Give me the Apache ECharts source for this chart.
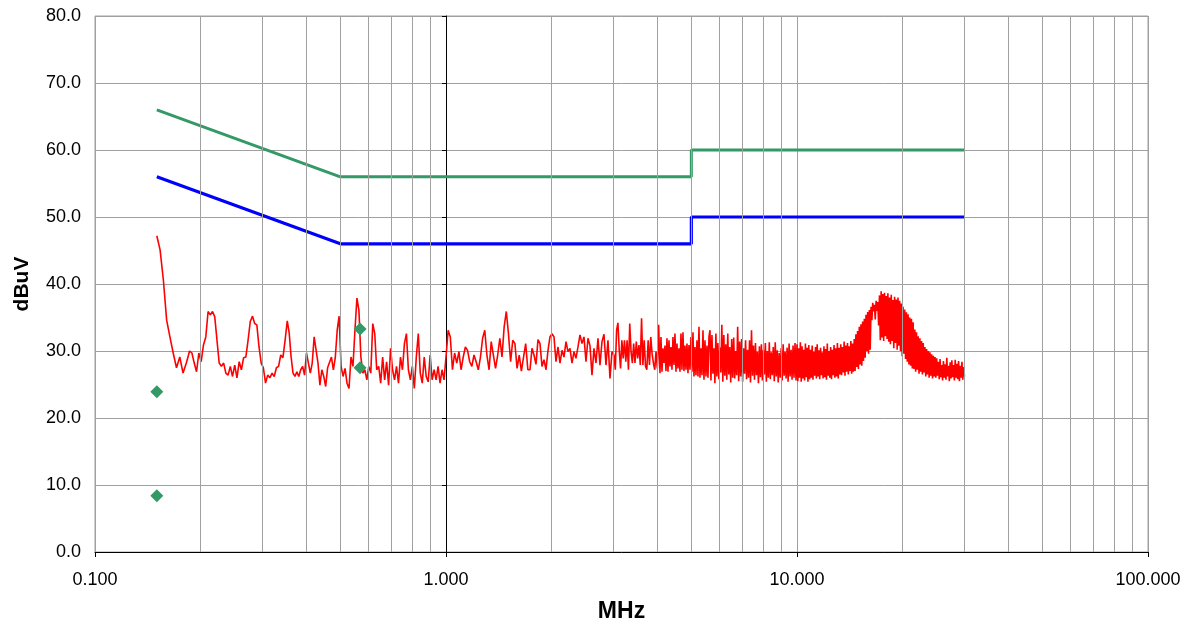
<!DOCTYPE html>
<html>
<head>
<meta charset="utf-8">
<script src="https://cdn.jsdelivr.net/npm/echarts@6/dist/echarts.min.js"></script>
<style>
html,body{margin:0;padding:0;background:#fff;}
#chart{width:1186px;height:626px;}
</style>
</head>
<body>
<div id="chart"></div>
<script>
// ---- Axis settings ----
const yTicks = [0, 10, 20, 30, 40, 50, 60, 70, 80];
const minorGridMHz = [0.2,0.3,0.4,0.5,0.6,0.7,0.8,0.9, 2,3,4,5,6,7,8,9, 20,30,40,50,60,70,80,90];

// ---- Limit lines (MHz, dBuV) ----
const qpLimitMHz = [0.15, 0.5, 5, 5, 30];
const qpLimitDb  = [66, 56, 56, 60, 60];
const avLimitMHz = [0.15, 0.5, 5, 5, 30];
const avLimitDb  = [56, 46, 46, 50, 50];

// ---- Final measurement points ----
const qpPointsMHz = [0.150, 0.569];
const qpPointsDb  = [23.9, 33.3];
const avPointsMHz = [0.150, 0.569];
const avPointsDb  = [8.4, 27.5];

// ---- Peak scan: sub-sweep start frequencies (MHz) and levels (dBuV) ----
const sweepStartMHz = [0.150, 0.186, 0.210, 0.281, 0.353, 0.496, 1.000, 1.735, 3.010, 4.070, 5.650, 10.00];
const sweepStopMHz = 30.0;
const lvA1 = [47.2,45.1,40.6,34.6,32.1,29.7,27.5,29.1,26.7,28.2];
const lvA2 = [30.0,29.7,28.2,26.9,29.7,28.4,30.9,32.1];
const lvA3 = [35.9,35.4,35.9,35.1,31.6,28.2,27.7,28.2,26.7,26.4,27.7,26.2,27.9,26.0,28.4,27.2,29.0,29.1,31.6,34.4];
const lvA4 = [35.2,34.1,33.9,30.6,28.2,27.5,25.2,26.4,26.0,26.7,26.2,27.5,27.7,29.4,29.0,31.6];
const lvA5 = [34.5,32.7,29.1,26.7,26.2,26.9,26.2,27.2,27.7,26.4,29.7,29.9,26.7,28.2,32.1,31.9,28.2,24.9,27.2,26.2,24.7,27.5,27.7,29.1,27.2,29.0,33.1];
const lvB1 = [35.2,27.7,26.2,27.4,25.2,24.4,29.1,27.7,33.1,37.9,36.1,29.1,26.7,27.2,25.7,27.7,26.7,34.1,32.6,27.2,27.7,25.2,29.1,25.7,28.4,24.9,30.4,27.2,25.7,27.7,25.2,29.1,27.2,31.1,32.6,27.2,25.7,27.7,24.4,29.1,32.6,26.7,25.2,29.1,26.2,25.4,29.4,25.7,27.2,25.7,27.7,25.2,27.2,25.7];
const lvB2 = [29.1,33.1,32.1,27.2,29.7,28.2,29.9,27.2,29.1,30.6,30.1,28.4,27.7,29.4,28.4,27.2,29.1,31.9,33.1,29.4,27.2,31.4,29.4,27.4,29.4,31.9,29.1,33.6,35.9,32.6,28.4,31.6,31.1,27.4,29.4,27.0,29.1,31.1,27.2];
const lvC1 = [27.2,30.4,29.4,28.0,31.7,31.1,27.7,28.7,27.2,30.1,32.1,32.6,32.1,28.4,30.6,28.2,30.1,29.1,31.4,29.9,30.4,28.2,29.9,28.9,30.6,32.4,31.1,32.1,28.4,31.9,30.8,26.4,30.4,28.2,31.9,27.9,31.4,32.5,27.9,31.6,25.9,29.9];
const lvC2 = [29.4,27.2,33.1,34.2,30.1,27.4,31.6,28.9,31.6,28.4,31.6,27.2,34.1,29.9,28.2,31.1,28.2,31.4,28.9,30.9,27.9,34.9,27.9,31.6,27.7,27.2,31.6,27.9,32.1,29.6,28.2,27.2,29.9,27.4,33.9];
const lvC3 = [26.7,32.1,26.9,30.4,28.2,30.8,27.0,31.9,26.9,31.6,27.7,30.6,27.2,32.1,27.9,32.6,26.9,31.1,27.4,30.4,26.9,32.6,27.2,32.8,27.0,30.8,27.2,31.1,26.7,30.9,27.2,32.1,26.9,32.8,26.2,30.6,26.4,31.6,26.2,33.6,26.0,30.4,26.4,33.1,25.7,31.6,26.2,30.8,26.0,32.1];
const lvD = [33.1,25.6,32.4,26.6,30.4,25.2,32.6,26.2,31.2,25.8,30.5,26.8,33.9,25.4,32.4,26.3,31.0,25.7,32.6,26.5,30.6,25.3,31.8,26.0,32.0,25.9,30.0,26.4,33.6,25.5,31.4,26.2,31.8,25.4,30.4,26.6,31.6,25.8,30.2,26.0,31.6,25.3,33.1,26.3,30.8,25.7,31.2,26.4,29.9,25.2,30.7,26.1,31.0,25.6,30.2,26.5,31.2,25.4,30.0,26.0,31.3,25.8,29.8,26.4,30.6,25.5,31.3,26.2,30.1,25.3,29.7,26.0,30.4,25.6,31.0,26.3,29.9,25.9,30.5,25.4,31.1,26.2,30.2,25.7,30.8,26.0,31.2,25.6];
const lvE = [
31.0,25.5,30.4,26.0,31.3,25.4,30.7,25.9,30.2,25.6,31.1,26.1,30.5,25.4,30.9,25.8,
30.2,26.0,30.8,25.7,29.9,26.3,30.6,25.9,31.0,26.2,30.1,25.8,30.5,26.4,29.8,25.9,30.7,26.1,30.3,25.7,31.1,26.3,30.0,26.0,30.6,25.8,30.2,26.4,30.9,26.0,30.4,26.2,31.2,25.9,30.5,26.5,
31.0,26.4,30.6,26.8,31.4,26.3,30.8,26.9,31.2,26.5,30.7,27.0,31.5,26.6,31.1,26.9,
31.8,27.0,32.5,27.6,33.0,27.3,33.6,28.0,34.0,27.8,34.4,28.5,
34.8,29.0,35.4,30.0,35.8,29.6,36.1,30.2,
36.6,34.6,37.2,35.9,36.9,34.7,37.5,36.0,37.3,33.8,
38.3,31.6,38.9,32.0,38.5,31.5,38.7,32.2,38.2,31.8,38.6,31.4,
38.0,31.0,38.4,31.5,37.6,30.4,38.1,31.2,37.7,30.2,38.0,30.8,37.5,30.0,
37.1,29.2,36.6,29.6,36.2,28.8,35.8,28.4,35.5,28.0,35.0,27.8,34.8,27.4,34.3,27.3,
33.2,26.9,32.8,27.2,32.2,26.6,31.9,26.9,31.5,26.5,31.2,26.8,
30.6,26.2,30.3,26.5,30.0,26.0,29.8,26.3,29.5,25.9,29.3,26.2,29.1,26.0,28.9,26.3,
28.4,25.8,28.8,26.1,27.9,25.6,28.5,26.0,28.0,25.7,29.0,26.2,27.8,25.5,28.3,25.9,28.6,26.1,27.9,25.6,28.7,26.0,28.1,25.8,28.5,25.5,27.8,26.0,28.4,25.7,27.6,26.2
];

// ---- build series data ----
const sweeps = [lvA1, lvA2, lvA3, lvA4, lvA5, lvB1, lvB2, lvC1, lvC2, lvC3, lvD, lvE];
const trace = [];
sweeps.forEach((vals, i) => {
  const f0 = sweepStartMHz[i];
  const last = i === sweeps.length - 1;
  const f1 = last ? sweepStopMHz : sweepStartMHz[i + 1];
  const n = vals.length;
  vals.forEach((v, j) => {
    const t = last ? j / (n - 1) : j / n;
    trace.push([f0 * Math.pow(f1 / f0, t), v]);
  });
});
const zip = (a, b) => a.map((x, i) => [x, b[i]]);

const GRID = '#a0a0a0';
const FONT = '"Liberation Sans", Arial, sans-serif';
const chart = echarts.init(document.getElementById('chart'), null, {renderer: 'canvas'});
chart.setOption({
  animation: false,
  backgroundColor: '#ffffff',
  grid: {left: 95, right: 38, top: 16, bottom: 74, show: true, borderColor: GRID, borderWidth: 1,
         backgroundColor: 'transparent', containLabel: false, outerBoundsMode: 'none'},
  xAxis: {
    type: 'log', logBase: 10, min: 0.1, max: 100,
    name: 'MHz', nameLocation: 'middle', nameGap: 48,
    nameTextStyle: {fontFamily: FONT, fontSize: 23, fontWeight: 'bold', color: '#000'},
    axisLine: {show: true, lineStyle: {color: '#000', width: 1}},
    axisTick: {show: true, length: 5, lineStyle: {color: '#000'}},
    axisLabel: {fontFamily: FONT, fontSize: 18, color: '#000', margin: 19, formatter: v => Number(v).toFixed(3)},
    splitLine: {show: true, lineStyle: {color: GRID, width: 1}},
    minorTick: {show: false}, minorSplitLine: {show: false}
  },
  yAxis: [{
    type: 'value', min: 0, max: 80, interval: 10,
    name: 'dBuV', nameLocation: 'middle', nameGap: 62, nameRotate: 90,
    nameTextStyle: {fontFamily: FONT, fontSize: 21, fontWeight: 'bold', color: '#000'},
    axisLine: {show: false}, axisTick: {show: false},
    axisLabel: {fontFamily: FONT, fontSize: 18, color: '#000', margin: 14, formatter: v => yTicks.includes(v) ? v.toFixed(1) : ''},
    splitLine: {show: true, lineStyle: {color: GRID, width: 1}}
  }, {
    type: 'value', min: 0, max: 80, interval: 10, position: 'left', offset: -351,
    axisLine: {show: true, lineStyle: {color: '#000', width: 1}},
    axisTick: {show: true, length: 4, lineStyle: {color: '#000'}},
    axisLabel: {show: false}, splitLine: {show: false}
  }],
  series: [
    {
      type: 'line', data: [], silent: true, z: 1,
      markLine: {
        silent: true, symbol: ['none', 'none'], label: {show: false},
        lineStyle: {color: GRID, width: 1, type: 'solid'},
        emphasis: {disabled: true},
        data: minorGridMHz.map(v => ({xAxis: v}))
      }
    },
    {
      name: 'Peak', type: 'line', data: trace, showSymbol: false, z: 3,
      lineStyle: {color: '#ff0000', width: 1.6}, itemStyle: {color: '#ff0000'}
    },
    {
      name: 'QP Limit', type: 'line', data: zip(qpLimitMHz, qpLimitDb), showSymbol: false, z: 4,
      lineStyle: {color: '#339966', width: 3}, itemStyle: {color: '#339966'}
    },
    {
      name: 'AV Limit', type: 'line', data: zip(avLimitMHz, avLimitDb), showSymbol: false, z: 4,
      lineStyle: {color: '#0000ff', width: 3.2}, itemStyle: {color: '#0000ff'}
    },
    {
      name: 'QP', type: 'scatter', data: zip(qpPointsMHz, qpPointsDb), symbol: 'diamond', symbolSize: 13, z: 5,
      itemStyle: {color: '#339966', opacity: 1}
    },
    {
      name: 'AV', type: 'scatter', data: zip(avPointsMHz, avPointsDb), symbol: 'diamond', symbolSize: 13, z: 5,
      itemStyle: {color: '#339966', opacity: 1}
    }
  ]
});
</script>
</body>
</html>
